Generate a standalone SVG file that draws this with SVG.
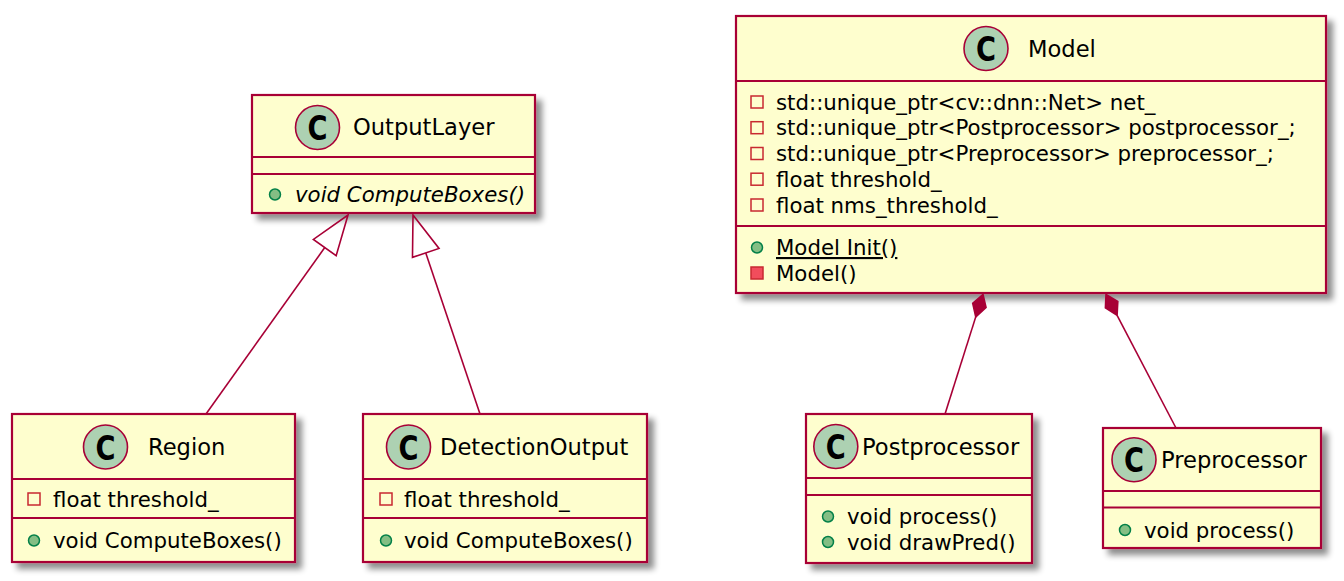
<svg xmlns="http://www.w3.org/2000/svg" width="1344" height="581" viewBox="0 0 1344 581">
<defs>
<filter id="sh" x="-10%" y="-10%" width="130%" height="130%">
<feGaussianBlur in="SourceAlpha" stdDeviation="3"/>
<feOffset dx="6" dy="6"/>
<feComponentTransfer><feFuncA type="linear" slope="0.45"/></feComponentTransfer>
<feMerge><feMergeNode/><feMergeNode in="SourceGraphic"/></feMerge>
</filter>
</defs>
<style>
.box{fill:#FEFECE;stroke:#A80036;stroke-width:2.2;filter:url(#sh)}
.div{stroke:#A80036;stroke-width:2.2}
.ci{fill:#ADD1B2;stroke:#A80036;stroke-width:1.6}
.cl{font-family:"DejaVu Sans",sans-serif;font-weight:bold;font-size:34px;fill:#000}
.hd{font-family:"DejaVu Sans",sans-serif;font-size:22.6px;fill:#000}
.tx{font-family:"DejaVu Sans",sans-serif;font-size:21.3px;fill:#000}
.pa{fill:none;stroke:#C82930;stroke-width:1.5}
.pm{fill:#F24D5C;stroke:#C82930;stroke-width:1.5}
.pu{fill:#84BE84;stroke:#038048;stroke-width:1.5}
.ln{fill:none;stroke:#A80036;stroke-width:1.6}
.dm{fill:#A80036;stroke:#A80036;stroke-width:1.6}
</style>

<g id="OutputLayer">
<rect class="box" x="252" y="95" width="283" height="118"/>
<line class="div" x1="252" y1="157" x2="535" y2="157"/>
<line class="div" x1="252" y1="174" x2="535" y2="174"/>
<circle class="ci" cx="317.5" cy="127.5" r="22"/>
<text class="cl" x="307.5" y="140" textLength="20" lengthAdjust="spacingAndGlyphs">C</text>
<text class="hd" x="353" y="135">OutputLayer</text>
<circle class="pu" cx="275" cy="194.5" r="5.5"/>
<text class="tx" x="295" y="202" font-style="italic">void ComputeBoxes()</text>
</g>

<g id="Region">
<rect class="box" x="12" y="414" width="283" height="148"/>
<line class="div" x1="12" y1="479" x2="295" y2="479"/>
<line class="div" x1="12" y1="518" x2="295" y2="518"/>
<circle class="ci" cx="105.5" cy="447" r="22"/>
<text class="cl" x="95.5" y="459.5" textLength="20" lengthAdjust="spacingAndGlyphs">C</text>
<text class="hd" x="148" y="455">Region</text>
<rect class="pa" x="28" y="493" width="12" height="12"/>
<text class="tx" x="53" y="507">float threshold_</text>
<circle class="pu" cx="34" cy="540.5" r="5.5"/>
<text class="tx" x="53" y="548">void ComputeBoxes()</text>
</g>

<g id="DetectionOutput">
<rect class="box" x="363" y="414" width="284" height="148"/>
<line class="div" x1="363" y1="479" x2="647" y2="479"/>
<line class="div" x1="363" y1="518" x2="647" y2="518"/>
<circle class="ci" cx="408.5" cy="447" r="22"/>
<text class="cl" x="398.5" y="459.5" textLength="20" lengthAdjust="spacingAndGlyphs">C</text>
<text class="hd" x="440" y="455">DetectionOutput</text>
<rect class="pa" x="380" y="493" width="12" height="12"/>
<text class="tx" x="404" y="507">float threshold_</text>
<circle class="pu" cx="386" cy="540.5" r="5.5"/>
<text class="tx" x="404" y="548">void ComputeBoxes()</text>
</g>

<g id="Model">
<rect class="box" x="736" y="16" width="590" height="277"/>
<line class="div" x1="736" y1="81" x2="1326" y2="81"/>
<line class="div" x1="736" y1="226" x2="1326" y2="226"/>
<circle class="ci" cx="986" cy="48.5" r="22"/>
<text class="cl" x="976" y="61" textLength="20" lengthAdjust="spacingAndGlyphs">C</text>
<text class="hd" x="1028" y="57">Model</text>
<rect class="pa" x="751" y="96" width="12" height="12"/>
<text class="tx" x="776" y="109.5">std::unique_ptr&lt;cv::dnn::Net&gt; net_</text>
<rect class="pa" x="751" y="121.7" width="12" height="12"/>
<text class="tx" x="776" y="135.2">std::unique_ptr&lt;Postprocessor&gt; postprocessor_;</text>
<rect class="pa" x="751" y="147.5" width="12" height="12"/>
<text class="tx" x="776" y="161">std::unique_ptr&lt;Preprocessor&gt; preprocessor_;</text>
<rect class="pa" x="751" y="173.2" width="12" height="12"/>
<text class="tx" x="776" y="186.7">float threshold_</text>
<rect class="pa" x="751" y="199" width="12" height="12"/>
<text class="tx" x="776" y="212.5">float nms_threshold_</text>
<circle class="pu" cx="757" cy="247.5" r="5.5"/>
<text class="tx" x="776" y="255" text-decoration="underline">Model Init()</text>
<rect class="pm" x="751" y="267" width="12" height="12"/>
<text class="tx" x="776" y="280.5">Model()</text>
</g>

<g id="Postprocessor">
<rect class="box" x="806" y="414" width="226" height="149"/>
<line class="div" x1="806" y1="478" x2="1032" y2="478"/>
<line class="div" x1="806" y1="495" x2="1032" y2="495"/>
<circle class="ci" cx="835.8" cy="446.5" r="22"/>
<text class="cl" x="825.8" y="459" textLength="20" lengthAdjust="spacingAndGlyphs">C</text>
<text class="hd" x="862" y="454.5">Postprocessor</text>
<circle class="pu" cx="828" cy="516.5" r="5.5"/>
<text class="tx" x="847" y="524">void process()</text>
<circle class="pu" cx="828" cy="542" r="5.5"/>
<text class="tx" x="847" y="549.5">void drawPred()</text>
</g>

<g id="Preprocessor">
<rect class="box" x="1103" y="428" width="218" height="120"/>
<line class="div" x1="1103" y1="491" x2="1321" y2="491"/>
<line class="div" x1="1103" y1="507.5" x2="1321" y2="507.5"/>
<circle class="ci" cx="1134" cy="459.7" r="22"/>
<text class="cl" x="1124" y="472.2" textLength="20" lengthAdjust="spacingAndGlyphs">C</text>
<text class="hd" x="1161" y="467.5">Preprocessor</text>
<circle class="pu" cx="1125" cy="530" r="5.5"/>
<text class="tx" x="1144" y="537.5">void process()</text>
</g>

<g id="connectors">
<line class="ln" x1="206" y1="414" x2="324.77" y2="247.56"/>
<polygon class="ln" points="348,215 336.16,255.69 313.38,239.43"/>
<line class="ln" x1="480" y1="414" x2="425.76" y2="252.9"/>
<polygon class="ln" points="413,215 439.03,248.43 412.49,257.37"/>
<line class="ln" x1="945" y1="414" x2="975.75" y2="316.88"/>
<polygon class="dm" points="983,294.5 986.05,307.55 975.75,316.88 972.71,303.33"/>
<line class="ln" x1="1176" y1="428" x2="1117.1" y2="315.3"/>
<polygon class="dm" points="1106,294.5 1117.8,301.4 1117.1,315.3 1105.4,307.9"/>
</g>
</svg>
